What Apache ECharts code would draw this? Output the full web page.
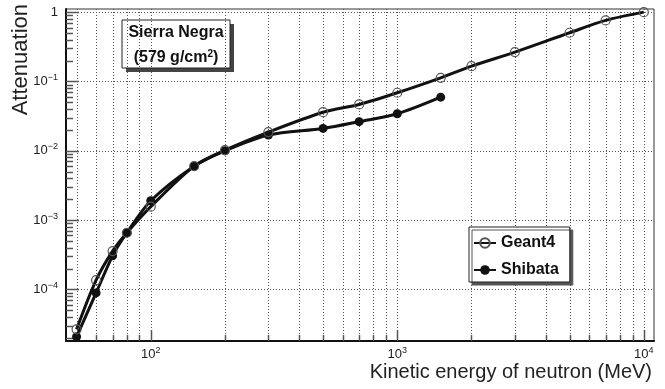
<!DOCTYPE html>
<html>
<head>
<meta charset="utf-8">
<title>Neutron attenuation at Sierra Negra</title>
<script src="https://cdn.jsdelivr.net/npm/echarts@6/dist/echarts.min.js"></script>
<style>
  html, body { margin: 0; padding: 0; background: #ffffff; }
  #chart { width: 665px; height: 389px; }
</style>
</head>
<body>
<div id="chart"></div>
<script>
// Attenuation of the neutron flux through 579 g/cm2 of atmosphere (Sierra Negra)
const geant4Energy = [50, 60, 70, 80, 100, 150, 200, 300, 500, 700, 1000, 1500, 2000, 3000, 5000, 7000, 10000];
const geant4Atten  = [2.65e-5, 1.36e-4, 3.57e-4, 6.56e-4, 1.56e-3, 6.0e-3, 1.02e-2, 1.86e-2, 3.6e-2, 4.66e-2, 6.87e-2, 0.1127, 0.166, 0.265, 0.504, 0.76, 1.0];

const shibataEnergy = [50, 60, 70, 80, 100, 150, 200, 300, 500, 700, 1000, 1500];
const shibataAtten  = [2.07e-5, 8.9e-5, 3.05e-4, 6.56e-4, 1.9e-3, 6.0e-3, 1.0e-2, 1.69e-2, 2.1e-2, 2.63e-2, 3.42e-2, 5.94e-2];

// Axis ranges (MeV, attenuation)
const xRange = [45.3, 11000];
const yRange = [1.8e-5, 1.11];

// Decades and the 1..9 mantissas used for the log ticks and grid
const xDecades = [10, 100, 1000, 10000];
const yDecades = [1e-5, 1e-4, 1e-3, 1e-2, 1e-1, 1];
const mantissas = [1, 2, 3, 4, 5, 6, 7, 8, 9];

const FONT = 'Liberation Sans, Arial, Helvetica, sans-serif';

function logTicks(decades, range) {
  const out = [];
  decades.forEach(d => mantissas.forEach(m => {
    const v = d * m;
    if (v >= range[0] * 0.9999 && v <= range[1] * 1.0001) out.push(v);
  }));
  return out;
}
const xTickValues = logTicks(xDecades, xRange);
const yTickValues = logTicks(yDecades, yRange);

function isDecade(v) {
  const l = Math.log10(v);
  return Math.abs(l - Math.round(l)) < 1e-6;
}

function powerLabel(v) {
  if (!isDecade(v)) return '';
  const e = Math.round(Math.log10(v));
  if (e === 0) return '{b|1}';
  return '{b|10}{s|' + (e < 0 ? '\u2212' + (-e) : e) + '}';
}

const labelRich = {
  b: { fontFamily: FONT, fontSize: 13, color: '#222', lineHeight: 16 },
  s: { fontFamily: FONT, fontSize: 9, color: '#222', padding: [0, 0, 8, 0] }
};

const chart = echarts.init(document.getElementById('chart'), null, { renderer: 'canvas' });

const option = {
  animation: false,
  backgroundColor: '#ffffff',
  grid: {
    left: 66, right: 11, top: 9, bottom: 48,
    show: true, borderColor: '#333', borderWidth: 1, backgroundColor: 'transparent',
    outerBoundsMode: 'none'
  },
  xAxis: {
    type: 'log', logBase: 10, min: xRange[0], max: xRange[1],
    axisLine: { show: true, onZero: false, lineStyle: { color: '#111', width: 2 } },
    axisTick: { show: false },
    splitLine: { show: false },
    minorTick: { show: false },
    axisLabel: {
      show: true, margin: 5, formatter: powerLabel, rich: labelRich,
      showMinLabel: true, showMaxLabel: true, hideOverlap: false
    }
  },
  yAxis: {
    type: 'log', logBase: 10, min: yRange[0], max: yRange[1],
    axisLine: { show: true, onZero: false, lineStyle: { color: '#111', width: 2 } },
    axisTick: { show: false },
    splitLine: { show: false },
    minorTick: { show: false },
    axisLabel: {
      show: true, margin: 8, formatter: powerLabel, rich: labelRich,
      showMinLabel: true, showMaxLabel: true, hideOverlap: false
    }
  },
  legend: {
    data: ['Geant4', 'Shibata'],
    orient: 'vertical',
    left: 469, top: 227,
    padding: [7, 11, 3, 4],
    itemWidth: 22, itemHeight: 12, itemGap: 9,
    backgroundColor: '#ffffff',
    borderColor: '#222', borderWidth: 1,
    shadowColor: '#555', shadowOffsetX: 3, shadowOffsetY: 3, shadowBlur: 0,
    selectedMode: false,
    textStyle: { fontFamily: FONT, fontWeight: 'bold', fontSize: 16, color: '#111', lineHeight: 18 }
  },
  graphic: [
    {
      type: 'group', z: 100,
      children: [
        { type: 'rect', shape: { x: 126, y: 24, width: 108, height: 48 }, style: { fill: '#444' } },
        { type: 'rect', shape: { x: 122, y: 20, width: 108, height: 48 }, style: { fill: '#fff', stroke: '#222', lineWidth: 1 } },
        { type: 'text', x: 176, y: 33, style: { text: 'Sierra Negra', align: 'center', verticalAlign: 'middle',
            fontFamily: FONT, fontWeight: 'bold', fontSize: 16, fill: '#111' } },
        { type: 'text', x: 176, y: 58, style: { text: '{m|(579 g/cm}{s|2}{m|)}', align: 'center', verticalAlign: 'middle',
            rich: {
              m: { fontFamily: FONT, fontWeight: 'bold', fontSize: 16, fill: '#111', color: '#111', lineHeight: 18 },
              s: { fontFamily: FONT, fontWeight: 'bold', fontSize: 10, fill: '#111', color: '#111', padding: [0, 0, 8, 0] }
            } } }
      ]
    },
    { type: 'text', z: 100, x: 21, y: 4, rotation: Math.PI / 2,
      style: { text: 'Attenuation', align: 'right', verticalAlign: 'middle', fontFamily: FONT, fontSize: 22, fill: '#222' } },
    { type: 'text', z: 100, x: 652, y: 372,
      style: { text: 'Kinetic energy of neutron (MeV)', align: 'right', verticalAlign: 'middle', fontFamily: FONT, fontSize: 20, fill: '#222' } }
  ],
  series: [
    {
      // vertical dotted grid and bottom ticks
      name: 'xgrid', type: 'custom', z: 1, silent: true,
      data: xTickValues.map(v => [v, yRange[0]]),
      renderItem: function (params, api) {
        const cs = params.coordSys;
        const v = api.value(0);
        const x = Math.round(api.coord([v, yRange[0]])[0]) + 0.5;
        const yb = cs.y + cs.height;
        const len = isDecade(v) ? 11 : 6;
        return { type: 'group', children: [
          { type: 'line', shape: { x1: x, y1: cs.y, x2: x, y2: yb }, style: { stroke: '#555', lineWidth: 1, lineDash: [1, 2] } },
          { type: 'line', shape: { x1: x, y1: yb, x2: x, y2: yb - len }, style: { stroke: '#555', lineWidth: 1.5 } }
        ] };
      }
    },
    {
      // horizontal dotted grid at decades and left ticks
      name: 'ygrid', type: 'custom', z: 1, silent: true,
      data: yTickValues.map(v => [xRange[0], v]),
      renderItem: function (params, api) {
        const cs = params.coordSys;
        const v = api.value(1);
        const y = Math.round(api.coord([xRange[0], v])[1]) + 0.5;
        const major = isDecade(v);
        const children = [
          { type: 'line', shape: { x1: cs.x, y1: y, x2: cs.x + (major ? 13 : 7), y2: y }, style: { stroke: '#555', lineWidth: 1.5 } }
        ];
        if (major) children.unshift({ type: 'line', shape: { x1: cs.x, y1: y, x2: cs.x + cs.width, y2: y },
          style: { stroke: '#555', lineWidth: 1, lineDash: [1, 2] } });
        return { type: 'group', children: children };
      }
    },
    {
      name: 'Geant4', type: 'line', z: 4,
      data: geant4Energy.map((e, i) => [e, geant4Atten[i]]),
      smooth: 0.3,
      symbol: 'circle', symbolSize: 9, showSymbol: true,
      lineStyle: { color: '#111', width: 3 },
      itemStyle: { color: 'rgba(255,255,255,0)', borderColor: '#555', borderWidth: 1.2 },
      emphasis: { disabled: true }
    },
    {
      name: 'Shibata', type: 'line', z: 3,
      data: shibataEnergy.map((e, i) => [e, shibataAtten[i]]),
      smooth: 0.3,
      symbol: 'circle', symbolSize: 9, showSymbol: true,
      lineStyle: { color: '#111', width: 3 },
      itemStyle: { color: '#111', borderColor: '#111', borderWidth: 0 },
      emphasis: { disabled: true }
    }
  ]
};

chart.setOption(option);
</script>
</body>
</html>
